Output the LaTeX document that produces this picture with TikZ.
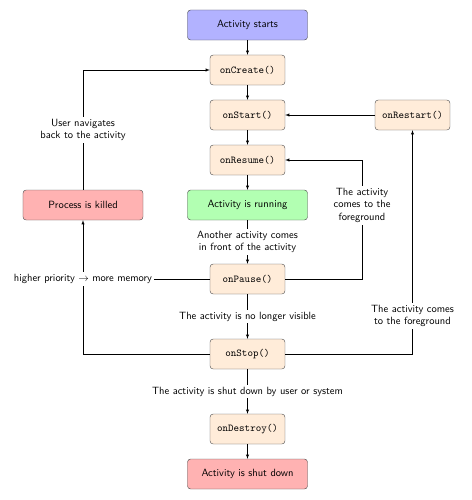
\documentclass[tikz,border=0pt]{standalone}
\usepackage{amsmath,amssymb}
\usepackage{tikz}
\usetikzlibrary{arrows.meta}
\renewcommand{\familydefault}{\sfdefault}
\tikzset{
    >=latex,
    state/.style={shape=rectangle, rounded corners=3pt, draw=black!70, inner sep=0pt,
        minimum width=4.02cm, minimum height=1.005cm},
    method/.style={state, fill=orange!15, minimum width=2.51cm, font=\ttfamily},
    edgelabel/.style={fill=white, align=center, inner sep=2pt}
}

\begin{document}
\begin{tikzpicture}[x=0.0335cm, y=-0.0335cm]
    \useasboundingbox (0,0) rectangle (471,500);

                \node[state, fill=blue!30] (begin) at (247.5,25) {Activity starts};
                \node[method] (create) at (247.5,70) {onCreate()};
                \node[method] (start) at (247.5,115) {onStart()};
                \node[method] (restart) at (412.5,115) {onRestart()};
                \node[method] (resume) at (247.5,160) {onResume()};
                \node[state, fill=green!30] (running) at (247.5,205) {Activity is running};
                \node[state, fill=red!30] (killed) at (83,205) {Process is killed};
                \node[method] (pause) at (247.5,279) {onPause()};
                \node[method] (stop) at (247.5,354) {onStop()};
                \node[method] (destroy) at (247.5,429) {onDestroy()};
                \node[state, fill=red!30] (shutdown) at (247.5,474) {Activity is shut down};

                \coordinate (fgpause) at (362,279);

                \draw[->] (begin) -- (create);
                \draw[->] (create) -- (start);
                \draw[->] (start) -- (resume);
                \draw[->] (resume) -- (running);
                \draw[->] (running) -- (pause) node[midway, edgelabel] {Another activity comes\\in front of the activity};
                \draw[->] (pause) -- (stop) node[midway, edgelabel] {The activity is no longer visible};
                \draw[->] (stop) -- (destroy) node[midway, edgelabel] {The activity is shut down by user or system};
                \draw[->] (destroy) -- (shutdown);
                \draw[->] (restart) -- (start);
                \draw[->] (pause) -- (fgpause) |- node[pos=0.31, edgelabel] {The activity\\comes to the\\foreground} (resume);
                \draw[->] (stop) -| node[pos=0.585, edgelabel] {The activity comes\\to the foreground} (restart);
                \draw[->] (killed) |- node[pos=0.25, edgelabel] {User navigates\\back to the activity} (create);
                \draw[->] (stop) -| (killed);

                \node[edgelabel] (priority) at (83,279) {higher priority $\rightarrow$ more memory};
                \draw (pause) -- (priority);

            \end{tikzpicture}
\end{document}
